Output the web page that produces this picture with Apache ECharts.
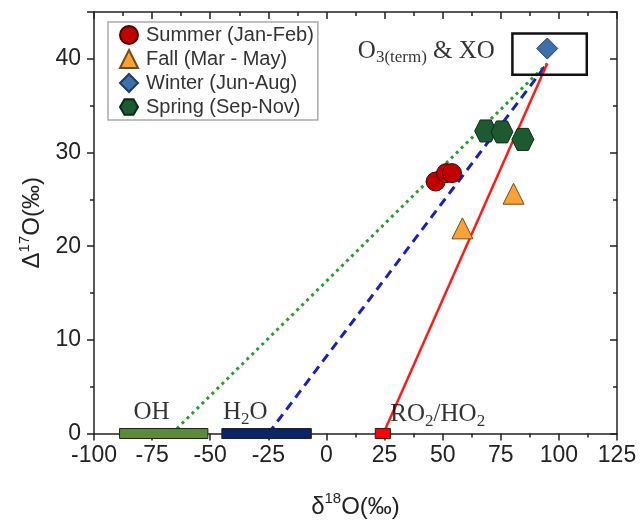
<!DOCTYPE html>
<html>
<head>
<meta charset="utf-8">
<script src="https://cdn.jsdelivr.net/npm/echarts@6/dist/echarts.min.js"></script>
<style>
  html, body { margin: 0; padding: 0; background: #fff; }
  #chart { width: 640px; height: 524px; }
</style>
</head>
<body>
<div id="chart"></div>
<script>
// season data, [d18O, D17O]
var seasonNames = ['Summer (Jan-Feb)', 'Fall (Mar - May)', 'Winter (Jun-Aug)', 'Spring (Sep-Nov)'];
var summerData = [[47, 26.9], [51.5, 27.8], [54, 27.8]];
var fallData = [[58.5, 21.9], [80.5, 25.6]];
var winterData = [[95, 41.1]];
var springData = [[68.5, 32.3], [75.5, 32.2], [84.5, 31.4]];

// mixing lines
var mixStart = [[-66.5, 0], [-25, 0], [24.5, 0]];
var mixEnd = [[95, 39.5], [95, 39.5], [95, 39.5]];

// end-member ranges on the x axis
var sourceNames = ['OH', 'H2O', 'RO2/HO2'];
var sourceStart = [-89, -45, 21];
var sourceEnd = [-51, -6.5, 27.5];

// O3(term) & XO box
var boxX = [80, 112];
var boxY = [38.3, 42.7];

// annotation anchors (left edge of text)
var annotText = ['{t|OH}', '{t|H}{sb|2}{t|O}', '{t|RO}{sb|2}{t|/HO}{sb|2}', '{t|O}{sb|3(term)}{t| & XO}'];
var annotX = [-83, -44.5, 27.5, 13.5];
var annotY = [2.2, 2.2, 2.0, 40.8];

var xTicks = { min: -100, max: 125, interval: 25 };
var yTicks = { min: 0, max: 45, interval: 10 };

var hexPath = 'path://M25,0 L75,0 L100,43 L75,86 L25,86 L0,43 Z';
var sansFont = '"Liberation Sans", Arial, sans-serif';
var serifFont = '"Liberation Serif", "Times New Roman", serif';

var chart = echarts.init(document.getElementById('chart'));

var sourceColors = ['#5b8a3a', '#0b2466', '#ff0000'];
var mixStyles = [
    { color: '#2a9d2a', width: 3, type: [3, 4] },
    { color: '#1a22b0', width: 3, type: [9, 6] },
    { color: '#ff1a1a', width: 2.5, type: 'solid' }
];

var series = [];

// mixing lines
for (var i = 0; i < mixStart.length; i++) {
    series.push({
        type: 'line',
        data: [mixStart[i], mixEnd[i]],
        symbol: 'none',
        lineStyle: mixStyles[i],
        silent: true,
        z: 2
    });
}

// source bars
series.push({
    type: 'custom',
    clip: false,
    z: 5,
    silent: true,
    data: sourceNames.map(function (n, i) { return [sourceStart[i], sourceEnd[i], i]; }),
    renderItem: function (params, api) {
        var p1 = api.coord([api.value(0), 0]);
        var p2 = api.coord([api.value(1), 0]);
        var h = 10;
        return {
            type: 'rect',
            shape: { x: p1[0], y: p1[1] - h / 2, width: p2[0] - p1[0], height: h },
            style: { fill: sourceColors[api.value(2)], stroke: '#222', lineWidth: 1 }
        };
    }
});

// box around O3(term) & XO
series.push({
    type: 'custom',
    clip: false,
    z: 3,
    silent: true,
    data: [[boxX[0], boxY[1], boxX[1], boxY[0]]],
    renderItem: function (params, api) {
        var a = api.coord([api.value(0), api.value(1)]);
        var b = api.coord([api.value(2), api.value(3)]);
        return {
            type: 'rect',
            shape: { x: a[0], y: a[1], width: b[0] - a[0], height: b[1] - a[1] },
            style: { fill: 'rgba(255,255,255,0)', stroke: '#111', lineWidth: 2.5 }
        };
    }
});

// annotations
series.push({
    type: 'scatter',
    symbolSize: 0,
    silent: true,
    z: 6,
    data: annotX.map(function (x, i) { return [x, annotY[i]]; }),
    label: {
        show: true,
        position: 'right',
        distance: 0,
        color: '#000',
        formatter: function (p) { return annotText[p.dataIndex]; },
        rich: {
            t: { fontFamily: serifFont, fontSize: 25, color: '#000' },
            sb: { fontFamily: serifFont, fontSize: 17, color: '#000', padding: [13, 0, 0, 0] }
        }
    }
});

// season markers
var seasonData = [summerData, fallData, winterData, springData];
var seasonSymbols = ['circle', 'triangle', 'diamond', hexPath];
var seasonSizes = [19, 21, 21, 22];
var seasonColors = ['#c00000', '#f7a33c', '#3d6fa8', '#1d5a31'];
var seasonBorders = ['#4a0000', '#7a4a10', '#1f3d60', '#0b2a16'];
for (var s = 0; s < seasonNames.length; s++) {
    series.push({
        name: seasonNames[s],
        type: 'scatter',
        data: seasonData[s],
        symbol: seasonSymbols[s],
        symbolSize: seasonSizes[s],
        itemStyle: { color: seasonColors[s], borderColor: seasonBorders[s], borderWidth: 1, opacity: 1 },
        z: 10
    });
}

var axisLineStyle = { color: '#222', width: 1.5 };

var option = {
    backgroundColor: '#fff',
    animation: false,
    grid: { left: 94, right: 23, top: 12, bottom: 88 },
    legend: {
        data: seasonNames,
        orient: 'vertical',
        left: 108,
        top: 22,
        itemWidth: 18,
        itemHeight: 18,
        itemGap: 4,
        padding: [3, 4, 3, 11],
        borderColor: '#aaa',
        borderWidth: 1.5,
        textStyle: { fontFamily: sansFont, fontSize: 20, color: '#333', padding: [0, 0, 0, 3] }
    },
    xAxis: [{
        type: 'value',
        min: xTicks.min, max: xTicks.max, interval: xTicks.interval,
        position: 'bottom',
        name: '{d|δ}{sp|18}{d|O(‰)}',
        nameLocation: 'middle',
        nameGap: 58,
        nameTextStyle: {
            rich: {
                d: { fontFamily: sansFont, fontSize: 24, color: '#222' },
                sp: { fontFamily: sansFont, fontSize: 15, color: '#222', padding: [0, 0, 16, 0] }
            }
        },
        axisLine: { show: true, onZero: false, lineStyle: axisLineStyle },
        axisTick: { show: true, inside: false, length: 7, lineStyle: axisLineStyle },
        minorTick: { show: true, splitNumber: 2, length: 4, lineStyle: axisLineStyle },
        axisLabel: { fontFamily: sansFont, fontSize: 23, color: '#222', margin: 11 },
        splitLine: { show: false }
    }, {
        type: 'value',
        min: xTicks.min, max: xTicks.max, interval: xTicks.interval,
        position: 'top',
        axisLine: { show: true, onZero: false, lineStyle: axisLineStyle },
        axisTick: { show: true, inside: true, length: 7, lineStyle: axisLineStyle },
        minorTick: { show: true, splitNumber: 2, length: 4, lineStyle: axisLineStyle },
        axisLabel: { show: false },
        splitLine: { show: false }
    }],
    yAxis: [{
        type: 'value',
        min: yTicks.min, max: yTicks.max, interval: yTicks.interval,
        position: 'left',
        name: '{d|Δ}{sp|17}{d|O(‰)}',
        nameLocation: 'middle',
        nameRotate: 90,
        nameGap: 37,
        nameTextStyle: {
            rich: {
                d: { fontFamily: sansFont, fontSize: 24, color: '#222' },
                sp: { fontFamily: sansFont, fontSize: 15, color: '#222', padding: [0, 0, 16, 0] }
            }
        },
        axisLine: { show: true, onZero: false, lineStyle: axisLineStyle },
        axisTick: { show: true, inside: false, length: 7, lineStyle: axisLineStyle },
        minorTick: { show: true, splitNumber: 2, length: 4, lineStyle: axisLineStyle },
        axisLabel: { fontFamily: sansFont, fontSize: 23, color: '#222', margin: 13, showMaxLabel: false },
        splitLine: { show: false }
    }, {
        type: 'value',
        min: yTicks.min, max: yTicks.max, interval: yTicks.interval,
        position: 'right',
        axisLine: { show: true, onZero: false, lineStyle: axisLineStyle },
        axisTick: { show: true, inside: true, length: 7, lineStyle: axisLineStyle },
        minorTick: { show: true, splitNumber: 2, length: 4, lineStyle: axisLineStyle },
        axisLabel: { show: false },
        splitLine: { show: false }
    }],
    series: series
};

chart.setOption(option);
</script>
</body>
</html>
